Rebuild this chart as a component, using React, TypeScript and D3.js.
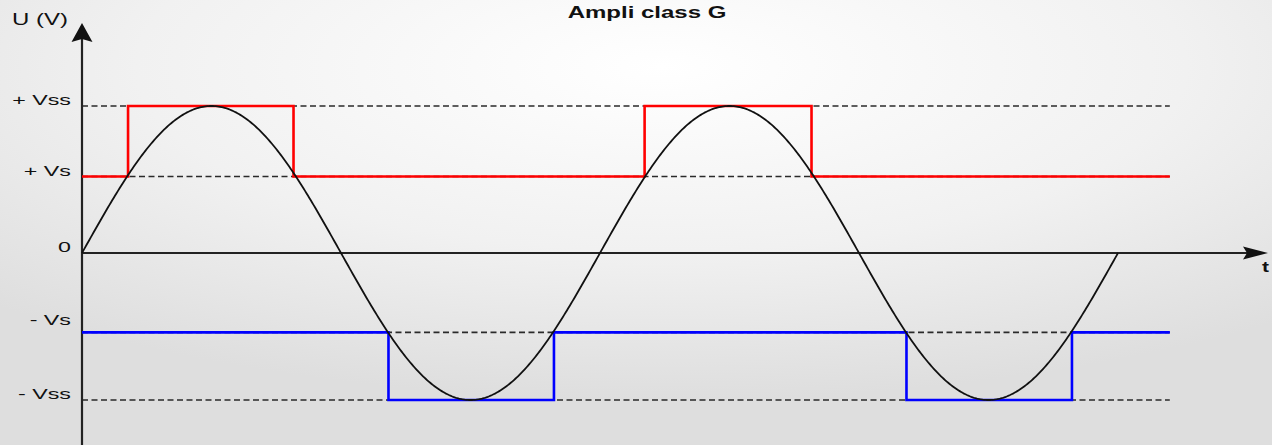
import React from "react";
import * as d3 from "d3";

// ---- data ----
const levelLabels = ["+ Vss", "+ Vs", "0", "- Vs", "- Vss"];
const levelValues = [1, 0.52, 0, -0.54, -1];
const dashedLevels = [1, 0.52, -0.54, -1];
// time axis in degrees of phase
const sineAmplitude = 1;
const sinePeriod = 360;
const sineEnd = 720;
const redHighIntervals: [number, number][] = [[32, 147], [391, 507]];
const blueLowIntervals: [number, number][] = [[213, 328], [573, 688]];
const redLow = 0.52, redHigh = 1;
const blueHigh = -0.54, blueLow = -1;
const traceEnd = 756;

const W = 1272, H = 445;

export default function App() {
  const x = d3.scaleLinear().domain([0, sineEnd]).range([82, 1118]);
  const y = d3.scaleLinear().domain([-1, 1]).range([400, 106]);
  const line = d3.line<[number, number]>().x(d => x(d[0])).y(d => y(d[1]));

  const sinePts: [number, number][] = d3.range(0, sineEnd + 0.5, 1).map(t => [t, sineAmplitude * Math.sin((2 * Math.PI * t) / sinePeriod)]);

  const square = (base: number, peak: number, intervals: [number, number][]) => {
    const pts: [number, number][] = [[0, base]];
    intervals.forEach(([a, b]) => {
      pts.push([a, base], [a, peak], [b, peak], [b, base]);
    });
    pts.push([traceEnd, base]);
    return pts;
  };

  const font = "'Liberation Sans', Arial, sans-serif";
  const x0 = x(0), yz = y(0);

  return (
    <svg width={W} height={H} style={{ position: "absolute", left: 0, top: 0 }}>
      <defs>
        <radialGradient id="bg" cx="52%" cy="15%" r="75%" fx="52%" fy="15%">
          <stop offset="0%" stopColor="#ffffff" />
          <stop offset="55%" stopColor="#f1f1f1" />
          <stop offset="100%" stopColor="#dedede" />
        </radialGradient>
      </defs>
      <rect x={0} y={0} width={W} height={H} fill="url(#bg)" />

      {/* dashed reference levels */}
      {dashedLevels.map((v, i) => (
        <line key={i} x1={x0} x2={x(traceEnd)} y1={y(v)} y2={y(v)} stroke="#2a2a2a" strokeWidth={1.6} strokeDasharray="6,3.5" />
      ))}

      {/* axes */}
      <line x1={x0} x2={x0} y1={38} y2={H} stroke="#222" strokeWidth={2.2} />
      <path d={`M${x0},23 L${x0 + 10.5},42 L${x0},39 L${x0 - 10.5},42 Z`} fill="#111" />
      <line x1={x0} x2={1250} y1={yz} y2={yz} stroke="#222" strokeWidth={2} />
      <path d={`M1268,${yz} L1243,${yz - 6.5} L1247,${yz} L1243,${yz + 6.5} Z`} fill="#111" />

      {/* supply rails */}
      <path d={line(square(redLow, redHigh, redHighIntervals)) || ""} fill="none" stroke="#ff0000" strokeWidth={2.6} />
      <path d={line(square(blueHigh, blueLow, blueLowIntervals)) || ""} fill="none" stroke="#0000ff" strokeWidth={2.6} />

      {/* signal */}
      <path d={line(sinePts) || ""} fill="none" stroke="#111" strokeWidth={1.8} />

      {/* labels */}
      <g fontFamily={font} fill="#111">
        {levelLabels.map((lab, i) => (
          <text key={lab} transform={`translate(71,${y(levelValues[i]) - (levelValues[i] === -0.54 ? 7 : 1)}) scale(1.5,1)`} textAnchor="end" fontSize={15.5}>
            {lab}
          </text>
        ))}
        <text transform="translate(12,25) scale(1.5,1)" fontSize={16}>U (V)</text>
        <text transform="translate(647,18) scale(1.5,1)" fontSize={16} fontWeight="bold" textAnchor="middle">Ampli class G</text>
        <text transform="translate(1262,272) scale(1.4,1)" fontSize={15} fontWeight="bold">t</text>
      </g>
    </svg>
  );
}
